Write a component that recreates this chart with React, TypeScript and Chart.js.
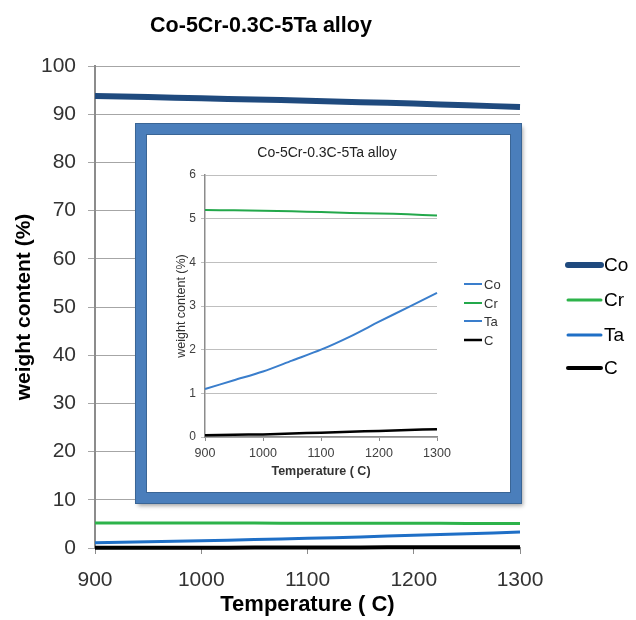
import React, { useEffect, useRef } from "react";
import { Chart, registerables } from "chart.js";
Chart.register(...registerables);

const temperatures = [900, 950, 1000, 1050, 1100, 1150, 1200, 1250, 1300];
const coValues = [93.8, 93.55, 93.3, 93.05, 92.8, 92.5, 92.2, 91.85, 91.5];
const crValues = [5.2, 5.19, 5.18, 5.17, 5.15, 5.13, 5.12, 5.1, 5.07];
const taValues = [1.1, 1.3, 1.5, 1.75, 2.0, 2.3, 2.64, 2.97, 3.3];
const cValues = [0.04, 0.05, 0.06, 0.08, 0.1, 0.12, 0.14, 0.16, 0.18];

const seriesNames = ["Co", "Cr", "Ta", "C"];
const xTickValues = [900, 1000, 1100, 1200, 1300];
const mainYTicks = [0, 10, 20, 30, 40, 50, 60, 70, 80, 90, 100];
const insetYTicks = [0, 1, 2, 3, 4, 5, 6];

const chartTitle = "Co-5Cr-0.3C-5Ta alloy";
const yTitle = "weight content (%)";
const xTitle = "Temperature ( C)";

const FONT = '"Liberation Sans", Arial, sans-serif';

const mainColors = ["#1F4A7E", "#2DB34A", "#1F6FC6", "#000000"];
const mainWidths = [6, 3, 3, 4];
const insetColors = ["#3A7ECC", "#23A84B", "#3A7ECC", "#000000"];

const pts = (vals: number[]) => temperatures.map((t, i) => ({ x: t, y: vals[i] }));
const allSeries = [coValues, crValues, taValues, cValues];

export default function App() {
  const mainRef = useRef<HTMLCanvasElement>(null);
  const insetRef = useRef<HTMLCanvasElement>(null);

  useEffect(() => {
    const mainPlugin = {
      id: "mainDecor",
      afterDraw(chart: any) {
        const ctx = chart.ctx;
        ctx.save();
        ctx.fillStyle = "#000";
        ctx.font = `bold 21.5px ${FONT}`;
        ctx.textAlign = "center";
        ctx.textBaseline = "middle";
        ctx.fillText(chartTitle, 261, 26);
        const rows = [265, 300, 335, 368];
        ctx.font = `19px ${FONT}`;
        ctx.textAlign = "left";
        seriesNames.forEach((n, i) => {
          ctx.strokeStyle = mainColors[i];
          ctx.lineWidth = mainWidths[i];
          ctx.lineCap = "round";
          ctx.beginPath();
          ctx.moveTo(568, rows[i]);
          ctx.lineTo(601, rows[i]);
          ctx.stroke();
          ctx.fillStyle = "#000";
          ctx.fillText(n, 604, rows[i] + 1);
        });
        ctx.restore();
      },
    };

    const main = new Chart(mainRef.current!, {
      type: "line",
      data: {
        datasets: seriesNames.map((n, i) => ({
          label: n,
          data: pts(allSeries[i]),
          borderColor: mainColors[i],
          backgroundColor: mainColors[i],
          borderWidth: mainWidths[i],
          pointRadius: 0,
          tension: 0.3,
          clip: 6,
        })),
      },
      options: {
        responsive: false,
        animation: false,
        layout: { padding: { left: 0, top: 66, right: 116, bottom: 0 } },
        plugins: { legend: { display: false }, title: { display: false }, tooltip: { enabled: false } },
        scales: {
          x: {
            type: "linear",
            min: 900,
            max: 1300,
            afterBuildTicks: (s: any) => {
              s.ticks = xTickValues.map((v) => ({ value: v }));
            },
            afterFit: (s: any) => {
              s.height = 72;
            },
            ticks: {
              callback: (v: any) => String(v),
              color: "#333",
              font: { family: FONT, size: 21 },
              padding: 14,
              maxRotation: 0,
            },
            grid: { drawOnChartArea: false, drawTicks: true, tickLength: 6, color: "#8C8C8C" },
            border: { color: "#8C8C8C", width: 2 },
            title: {
              display: true,
              text: xTitle,
              color: "#000",
              font: { family: FONT, size: 22, weight: "bold" },
              padding: { top: 0, bottom: 2 },
            },
          },
          y: {
            min: 0,
            max: 100,
            afterBuildTicks: (s: any) => {
              s.ticks = mainYTicks.map((v) => ({ value: v }));
            },
            afterFit: (s: any) => {
              s.width = 95;
            },
            ticks: {
              callback: (v: any) => String(v),
              color: "#333",
              font: { family: FONT, size: 21 },
              padding: 12,
            },
            grid: { color: "#A6A6A6", lineWidth: 1, tickLength: 7 },
            border: { color: "#8C8C8C", width: 2 },
            title: {
              display: true,
              text: yTitle,
              color: "#000",
              font: { family: FONT, size: 21, weight: "bold" },
              padding: { top: 12, bottom: 0 },
            },
          },
        },
      },
      plugins: [mainPlugin],
    } as any);

    const insetPlugin = {
      id: "insetDecor",
      afterDraw(chart: any) {
        const ctx = chart.ctx;
        ctx.save();
        ctx.fillStyle = "#222";
        ctx.font = `14px ${FONT}`;
        ctx.textAlign = "center";
        ctx.textBaseline = "middle";
        ctx.fillText(chartTitle, 181, 19);
        const rows = [150, 169, 187, 206];
        ctx.font = `13px ${FONT}`;
        ctx.textAlign = "left";
        seriesNames.forEach((n, i) => {
          ctx.strokeStyle = insetColors[i];
          ctx.lineWidth = i === 3 ? 2.5 : 2;
          ctx.beginPath();
          ctx.moveTo(318, rows[i]);
          ctx.lineTo(336, rows[i]);
          ctx.stroke();
          ctx.fillStyle = "#333";
          ctx.fillText(n, 338, rows[i] + 1);
        });
        ctx.restore();
      },
    };

    const inset = new Chart(insetRef.current!, {
      type: "line",
      data: {
        datasets: seriesNames.map((n, i) => ({
          label: n,
          data: pts(allSeries[i]),
          borderColor: insetColors[i],
          backgroundColor: insetColors[i],
          borderWidth: i === 3 ? 2.5 : 2,
          pointRadius: 0,
          tension: 0.3,
          clip: 3,
        })),
      },
      options: {
        responsive: false,
        animation: false,
        layout: { padding: { left: 0, top: 41, right: 74, bottom: 0 } },
        plugins: {
          legend: { display: false },
          tooltip: { enabled: false },
          title: { display: false },
        },
        scales: {
          x: {
            type: "linear",
            min: 900,
            max: 1300,
            afterBuildTicks: (s: any) => {
              s.ticks = xTickValues.map((v) => ({ value: v }));
            },
            afterFit: (s: any) => {
              s.height = 56;
            },
            ticks: {
              callback: (v: any) => String(v),
              color: "#404040",
              font: { family: FONT, size: 12.5 },
              padding: 5,
              maxRotation: 0,
            },
            grid: { drawOnChartArea: false, drawTicks: true, tickLength: 4, color: "#8C8C8C" },
            border: { color: "#8C8C8C", width: 1.5 },
            title: {
              display: true,
              text: xTitle,
              color: "#333",
              font: { family: FONT, size: 12.5, weight: "bold" },
              padding: { top: 0, bottom: 14 },
            },
          },
          y: {
            min: 0,
            max: 6,
            afterBuildTicks: (s: any) => {
              s.ticks = insetYTicks.map((v) => ({ value: v }));
            },
            afterFit: (s: any) => {
              s.width = 59;
            },
            ticks: {
              callback: (v: any) => String(v),
              color: "#404040",
              font: { family: FONT, size: 12 },
              padding: 5,
            },
            grid: { color: "#BFBFBF", lineWidth: 1, tickLength: 4 },
            border: { color: "#8C8C8C", width: 1.5 },
            title: {
              display: true,
              text: yTitle,
              color: "#333",
              font: { family: FONT, size: 12.5 },
              padding: { top: 28, bottom: 0 },
            },
          },
        },
      },
      plugins: [insetPlugin],
    } as any);

    return () => {
      main.destroy();
      inset.destroy();
    };
  }, []);

  return (
    <div style={{ position: "absolute", left: 0, top: 0, width: 636, height: 620, background: "#fff" }}>
      <canvas ref={mainRef} width={636} height={620} style={{ position: "absolute", left: 0, top: 0, display: "block" }} />
      <div
        style={{
          position: "absolute",
          left: 136,
          top: 124,
          width: 385,
          height: 379,
          boxSizing: "border-box",
          border: "10px solid #4A7EBB",
          background: "#fff",
          boxShadow: "0 0 0 1px #3A6595, inset 0 0 0 1px #3A6595, 2px 3px 4px rgba(0,0,0,0.35)",
        }}
      >
        <canvas ref={insetRef} width={365} height={359} style={{ position: "absolute", left: 0, top: 0, display: "block" }} />
      </div>
    </div>
  );
}
